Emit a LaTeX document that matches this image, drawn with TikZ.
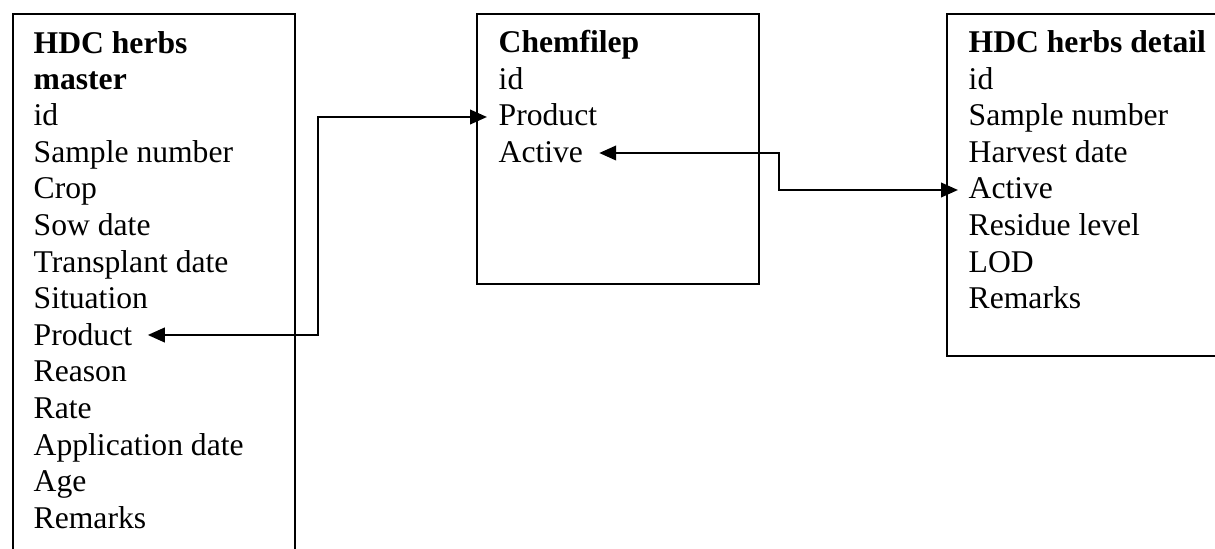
\documentclass[tikz,border=0pt]{standalone}
\usepackage{fontspec}
\setmainfont{Liberation Serif}
\usetikzlibrary{arrows.meta}

\tikzset{
  tbl/.style={draw, line width=0.7pt, anchor=north west, inner sep=0pt},
  row/.style={anchor=base west, inner sep=0pt, font=\fontsize{9}{10.4}\selectfont},
  hdr/.style={row, font=\fontsize{9}{10.4}\selectfont\bfseries, align=left},
  link/.style={line width=0.7pt, {Triangle[length=1.7mm,width=1.45mm]}-{Triangle[length=1.7mm,width=1.45mm]}}
}

\begin{document}
\begin{tikzpicture}

\useasboundingbox (0,0) rectangle (12.15,-5.49);
\clip (0,0) rectangle (12.15,-5.49);

\node[tbl, minimum width=2.82cm, minimum height=6cm] (mbox) at (0.12,-0.13) {};
\node[tbl, minimum width=2.82cm, minimum height=2.70cm] (cbox) at (4.76,-0.13) {};
\node[tbl, minimum width=3cm, minimum height=3.42cm] (dbox) at (9.46,-0.13) {};

% HDC herbs master (base is the last line)
\node[hdr] (mTitle) at (0.33,-0.90) {HDC herbs\\master};
\node[row] (mId) at (0.33,-1.26) {id};
\node[row] (mSample) at (0.33,-1.63) {Sample number};
\node[row] (mCrop) at (0.33,-1.99) {Crop};
\node[row] (mSow) at (0.33,-2.36) {Sow date};
\node[row] (mTrans) at (0.33,-2.73) {Transplant date};
\node[row] (mSit) at (0.33,-3.09) {Situation};
\node[row] (mProduct) at (0.33,-3.46) {Product};
\node[row] (mReason) at (0.33,-3.82) {Reason};
\node[row] (mRate) at (0.33,-4.19) {Rate};
\node[row] (mApp) at (0.33,-4.56) {Application date};
\node[row] (mAge) at (0.33,-4.92) {Age};
\node[row] (mRemarks) at (0.33,-5.29) {Remarks};

% Chemfilep
\node[hdr] (cTitle) at (4.98,-0.53) {Chemfilep};
\node[row] (cId) at (4.98,-0.90) {id};
\node[row] (cProduct) at (4.98,-1.26) {Product};
\node[row] (cActive) at (4.98,-1.63) {Active};

% HDC herbs detail
\node[hdr] (dTitle) at (9.68,-0.53) {HDC herbs detail};
\node[row] (dId) at (9.68,-0.90) {id};
\node[row] (dSample) at (9.68,-1.26) {Sample number};
\node[row] (dHarvest) at (9.68,-1.63) {Harvest date};
\node[row] (dActive) at (9.68,-1.99) {Active};
\node[row] (dResidue) at (9.68,-2.36) {Residue level};
\node[row] (dLOD) at (9.68,-2.73) {LOD};
\node[row] (dRemarks) at (9.68,-3.09) {Remarks};

\draw[link] ([shift={(0.15,0.11)}]mProduct.base east) -- ++(1.70,0) |- ([shift={(-0.11,0.09)}]cProduct.base west);
\draw[link] ([shift={(0.155,0.10)}]cActive.base east) -- ++(1.80,0) |- ([shift={(-0.10,0.09)}]dActive.base west);

\end{tikzpicture}
\end{document}
